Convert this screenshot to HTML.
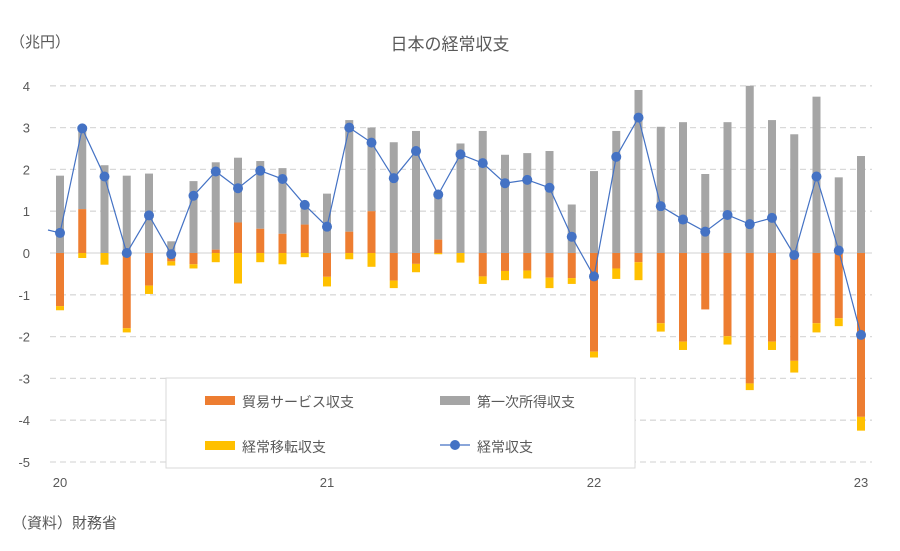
<!DOCTYPE html>
<html><head><meta charset="utf-8"><style>
body{margin:0;background:#fff;}
svg text{font-family:"Liberation Sans","Noto Sans CJK JP",sans-serif;}
</style></head><body>
<svg id="c" width="900" height="546" xmlns="http://www.w3.org/2000/svg">
<rect width="900" height="546" fill="#fff"/>
<text x="450" y="50" font-size="17" fill="#595959" text-anchor="middle">日本の経常収支</text>
<text x="10" y="47" font-size="15" fill="#595959">（兆円）</text>
<text x="12" y="528" font-size="15" fill="#595959">（資料）財務省</text>
<g id="g"></g>
</svg>
<script>
var g=document.getElementById('g'),s='';
function Y(v){return 253-v*41.8;}
for(var v=4;v>=-5;v--){var y=Y(v);
 if(v!==0)s+='<line x1="50" x2="872" y1="'+y+'" y2="'+y+'" stroke="#d9d9d9" stroke-width="1.3" stroke-dasharray="6,4"/>';
 s+='<text x="30" y="'+(y+5)+'" font-size="13" fill="#595959" text-anchor="end">'+v+'</text>';}
s+='<line x1="50" x2="872" y1="253" y2="253" stroke="#d9d9d9" stroke-width="1.3"/>';
// [orange, grayTop, yellowEnd(neg or 0), line]
var d=[[-1.27,1.85,-1.37,0.48],[1.05,3.0,-0.12,2.98],[0,2.1,-0.28,1.83],[-1.8,1.85,-1.9,0],[-0.78,1.9,-0.98,0.9],[-0.2,0.28,-0.3,-0.03],[-0.27,1.72,-0.37,1.37],[0.08,2.17,-0.22,1.95],[0.73,2.28,-0.73,1.55],[0.58,2.2,-0.22,1.97],[0.46,2.03,-0.27,1.77],[0.68,1.17,-0.1,1.15],
[-0.57,1.42,-0.8,0.63],[0.51,3.18,-0.15,3.0],[1.0,3.0,-0.33,2.64],[-0.66,2.65,-0.84,1.79],[-0.26,2.92,-0.46,2.44],[0.32,1.4,-0.03,1.4],[0,2.62,-0.23,2.36],[-0.56,2.92,-0.74,2.15],[-0.43,2.35,-0.65,1.67],[-0.42,2.39,-0.61,1.75],[-0.59,2.44,-0.84,1.56],[-0.6,1.16,-0.74,0.39],
[-2.36,1.96,-2.5,-0.56],[-0.37,2.92,-0.62,2.3],[-0.22,3.9,-0.65,3.24],[-1.68,3.02,-1.88,1.12],[-2.12,3.13,-2.32,0.8],[-1.35,1.89,-1.35,0.51],[-1.99,3.13,-2.19,0.91],[-3.12,4.0,-3.28,0.69],[-2.12,3.18,-2.32,0.84],[-2.58,2.84,-2.86,-0.05],[-1.68,3.74,-1.9,1.83],[-1.56,1.81,-1.75,0.06],[-3.92,2.32,-4.25,-1.96]];
var pts='48,'+Y(0.55),dots='';
d.forEach(function(r,i){var x=60+i*22.25,w=8,l=x-w/2;
 var o=r[0],gb=Math.max(o,0);
 s+='<rect x="'+l+'" y="'+Y(r[1])+'" width="'+w+'" height="'+(Y(gb)-Y(r[1]))+'" fill="#a5a5a5"/>';
 if(o>0)s+='<rect x="'+l+'" y="'+Y(o)+'" width="'+w+'" height="'+(Y(0)-Y(o))+'" fill="#ed7d31"/>';
 var on=Math.min(o,0);
 if(on<0)s+='<rect x="'+l+'" y="253" width="'+w+'" height="'+(Y(on)-253)+'" fill="#ed7d31"/>';
 if(r[2]<on)s+='<rect x="'+l+'" y="'+Y(on)+'" width="'+w+'" height="'+(Y(r[2])-Y(on))+'" fill="#ffc000"/>';
 pts+=' '+x+','+Y(r[3]);
 dots+='<circle cx="'+x+'" cy="'+Y(r[3])+'" r="5" fill="#4472c4"/>';});
s+='<polyline points="'+pts+'" fill="none" stroke="#4472c4" stroke-width="1.2"/>'+dots;
[['20',60],['21',327],['22',594],['23',861]].forEach(function(a){s+='<text x="'+a[1]+'" y="487" font-size="13" fill="#595959" text-anchor="middle">'+a[0]+'</text>';});
// legend
s+='<rect x="166" y="378" width="469" height="90" fill="#fff" stroke="#d9d9d9"/>';
s+='<rect x="205" y="396" width="30" height="9" fill="#ed7d31"/><text x="242" y="407" font-size="14" fill="#595959">貿易サービス収支</text>';
s+='<rect x="440" y="396" width="30" height="9" fill="#a5a5a5"/><text x="477" y="407" font-size="14" fill="#595959">第一次所得収支</text>';
s+='<rect x="205" y="441" width="30" height="9" fill="#ffc000"/><text x="242" y="452" font-size="14" fill="#595959">経常移転収支</text>';
s+='<line x1="440" x2="470" y1="445" y2="445" stroke="#4472c4" stroke-width="1.2"/><circle cx="455" cy="445" r="5" fill="#4472c4"/><text x="477" y="452" font-size="14" fill="#595959">経常収支</text>';
g.innerHTML=s;
</script>
</body></html>
